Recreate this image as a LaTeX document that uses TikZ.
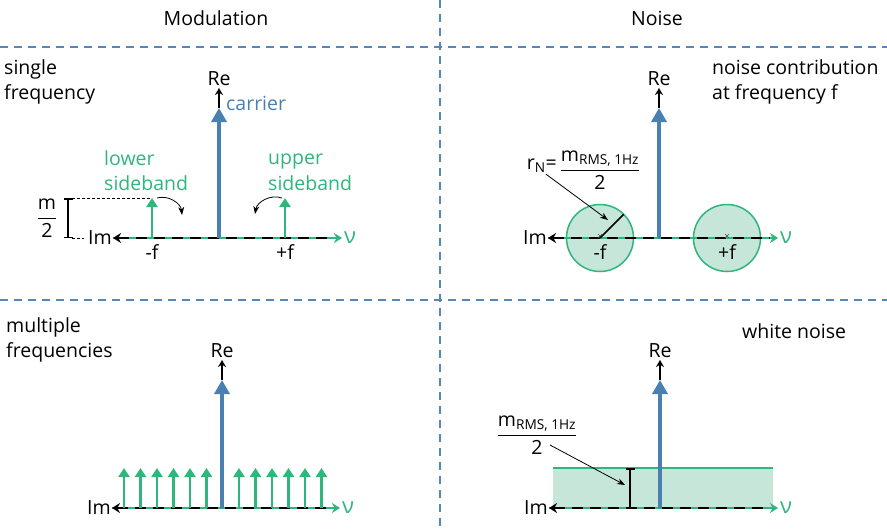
\documentclass[tikz,border=0pt]{standalone}
\usepackage{amsmath}
\usepackage{fontspec}
\setmainfont{Open Sans}
\usetikzlibrary{arrows.meta,positioning}
\definecolor{carrierblue}{HTML}{4A7FB1}
\definecolor{sbgreen}{HTML}{2EB67D}
\definecolor{noisefill}{HTML}{C6E6DA}
\definecolor{framedash}{HTML}{5587B8}
\tikzset{
    every picture/.style={line join=round},
    divider/.style={draw=framedash,line width=1.4pt,dash pattern=on 8pt off 6pt},
    carrier/.style={draw=carrierblue,line width=4pt,-{Triangle[length=14pt,width=15pt]}},
    reaxis/.style={draw=black,line width=1.3pt,-{Stealth[length=7pt,width=8pt]}},
    axisgreen/.style={draw=sbgreen,line width=2.8pt,-{Stealth[length=8pt,width=10pt]}},
    axisdash/.style={draw=black,line width=2.8pt,dash pattern=on 11pt off 7pt,
      {Stealth[length=8pt,width=10pt]}-,shorten >=9pt},
    sideband/.style={draw=sbgreen,line width=2.8pt,-{Triangle[length=9pt,width=11pt]}},
    annot/.style={draw=black,line width=0.8pt,-{Stealth[length=8pt,width=6pt]}},
    bracket/.style={draw=black,line width=1.5pt,{Bar[width=9pt]}-{Bar[width=9pt]}},
    guide/.style={draw=black,line width=0.6pt,dash pattern=on 3pt off 2pt},
    noisedisc/.style={circle,draw=sbgreen,fill=noisefill,line width=1.5pt,
      minimum size=67pt,inner sep=0pt,outer sep=0pt},
    lbl/.style={inner sep=1pt,align=left}
}

\begin{document}
\begin{tikzpicture}[x=1pt,y=-1pt,font=\fontsize{19.5}{25.5}\selectfont]
  \useasboundingbox (0,0) rectangle (887,528);
  % frame
  \draw[divider] (440,0) -- (440,528);
  \draw[divider] (0,47) -- (887,47);
  \draw[divider] (0,300) -- (887,300);
  \node[lbl] (tmod) at (216,18) {Modulation};
  \node[lbl] (tnoise) at (657,18) {Noise};

  \coordinate (o1) at (219,238);
  \coordinate (o2) at (659,238);
  \coordinate (o3) at (222,508);
  \coordinate (o4) at (660,508);

  % noise shapes go under the axes
  \node[noisedisc] (cm) at (600,238) {};
  \node[noisedisc] (cp) at (727,238) {};
  \coordinate (wl) at (553,468);
  \coordinate (wr) at (773,468);
  \fill[noisefill] (wl) rectangle (773,508);
  \draw[sbgreen,line width=1.5pt] (wl) -- (wr);

  % axes and carriers
  \foreach \o/\l/\r/\c in {o1/106/123/130,o2/111/119/130,o3/110/118/128,o4/111/118/128} {
    \coordinate (\o im) at ([xshift=-\l pt]\o);
    \coordinate (\o nu) at ([xshift=\r pt]\o);
    \draw[axisgreen] (\o im) -- (\o nu);
    \draw[axisdash] (\o im) -- (\o nu);
    \node[lbl,left=0pt of \o im] {Im};
    \node[lbl,right=1pt of \o nu,text=sbgreen,font=\fontsize{22}{25}\selectfont] {ν};
    \draw[carrier] (\o) -- ([yshift=\c pt]\o) coordinate (\o ct);
    \draw[reaxis] (\o ct) -- ([yshift=20pt]\o ct) coordinate (\o re);
    \node[lbl,above=1pt of \o re] {Re};
  }

  % single frequency
  \node[lbl,anchor=west] (single) at (3,82) {single\\frequency};
  \node[lbl,anchor=west,text=carrierblue] (carr) at (225,103) {carrier};
  \coordinate (lsb) at (152,238);
  \coordinate (usb) at (285,238);
  \draw[sideband] (lsb) -- ([yshift=40pt]lsb) coordinate (lsbtop);
  \draw[sideband] (usb) -- ([yshift=40pt]usb) coordinate (usbtop);
  \node[lbl,below=5pt of lsb] {-f};
  \node[lbl,below=5pt of usb] {+f};
  \node[lbl,anchor=west,text=sbgreen] (lower) at (103,170.5) {lower\\sideband};
  \node[lbl,anchor=west,text=sbgreen] (upper) at (267,172.5) {upper\\sideband};
  \coordinate (lcurve) at (182,215);
  \coordinate (ucurve) at (255,214);
  \draw[annot] ([xshift=5pt]lsbtop) to[bend left=50] (lcurve);
  \draw[annot] ([xshift=-3pt]usbtop) to[bend right=50] (ucurve);
  \coordinate (btop) at (68,198);
  \coordinate (bbot) at (68,238);
  \draw[bracket] (btop) -- (bbot);
  \draw[guide] ([xshift=4pt]btop) -- (lsbtop);
  \draw[guide] ([xshift=4pt]bbot) -- (84,238);
  \node[lbl] (mhalf) at (47,218) {$\dfrac{\text{m}}{\text{2}}$};

  % noise contribution
  \node[lbl,anchor=west] (contrib) at (711,82) {noise contribution\\at frequency f};
  \node[lbl,below=5pt of cm.center] {-f};
  \node[lbl,below=5pt of cp.center] {+f};
  \foreach \c in {cm,cp}
    \draw[black!70,line width=0.6pt] ([shift={(-2,-4)}]\c.center) -- ([shift={(2,0)}]\c.center)
      ([shift={(-2,0)}]\c.center) -- ([shift={(2,-4)}]\c.center);
  \draw[black,line width=1.5pt] (cm.center) -- (cm.45);
  \node[lbl,anchor=east] (rn) at (558,166) {r\textsubscript{N}=};
  \node[lbl] (rfrac) at (600,170) {$\dfrac{\text{m}_{\text{RMS, 1Hz}}}{\text{2}}$};
  \coordinate (rtip) at (608,220);
  \draw[annot] ([xshift=4pt]rn.south) -- (rtip);

  % multiple frequencies
  \node[lbl,anchor=west] (multi) at (5,340) {multiple\\frequencies};
  \foreach \x in {124,140.5,157,173.5,190,206.5,239,255.5,272,288.5,305,321.5}
    \draw[sideband] (\x,508) -- (\x,468);

  % white noise
  \node[lbl,anchor=west] (white) at (741,331) {white noise};
  \node[lbl] (wfrac) at (537,435) {$\dfrac{\text{m}_{\text{RMS, 1Hz}}}{\text{2}}$};
  \draw[bracket] (630,468) -- (630,508);
  \coordinate (wstart) at (550,445);
  \coordinate (wtip) at (625,485);
  \draw[annot] (wstart) -- (wtip);
\end{tikzpicture}
\end{document}
